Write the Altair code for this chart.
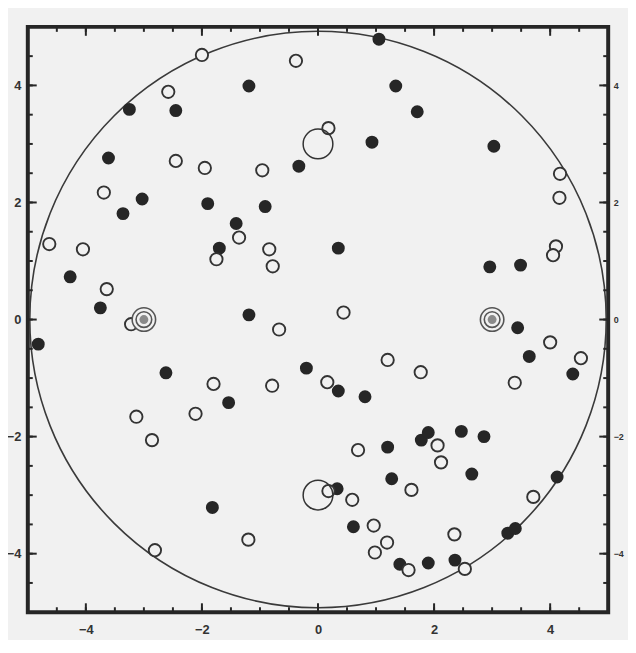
import altair as alt
import pandas as pd

# ---- data ----
filled_x = [1.05, -1.19, 1.34, -3.25, -2.45, 1.71, 0.93, 3.03, -3.61, -0.33,
            -3.03, -3.36, -1.90, -0.91, -1.41, -1.70, 0.35, 2.96, 3.49, -4.27,
            -3.75, -1.19, -4.82, 3.44, 3.64, 4.39, -2.62, -0.20, 0.35, 0.81,
            -1.54, 1.20, 1.78, 1.90, 2.47, 2.86, 2.65, 1.27, 4.12, 0.33,
            -1.82, 0.61, 3.27, 3.40, 1.41, 1.90, 2.36]
filled_y = [4.79, 3.99, 3.99, 3.59, 3.57, 3.55, 3.03, 2.96, 2.76, 2.62,
            2.06, 1.81, 1.98, 1.93, 1.64, 1.22, 1.22, 0.90, 0.93, 0.73,
            0.20, 0.08, -0.42, -0.14, -0.63, -0.93, -0.91, -0.83, -1.22, -1.32,
            -1.42, -2.18, -2.06, -1.93, -1.91, -2.00, -2.64, -2.72, -2.69, -2.89,
            -3.21, -3.54, -3.65, -3.57, -4.18, -4.16, -4.11]

open_x = [-2.00, -0.38, -2.58, 0.18, -2.45, -1.95, -0.96, 4.17, -3.69, 4.16,
          -1.36, -4.63, -4.05, -0.84, -1.75, 4.10, 4.05, -0.78, -3.64, 0.44,
          -3.22, -0.67, 4.00, 4.53, 3.39, 1.20, 1.77, -1.80, -0.79, 0.16,
          -3.13, -2.11, -2.86, 0.69, 2.06, 2.12, 1.61, 3.71, 0.18, 0.59,
          0.96, 1.19, 0.98, 2.35, -1.20, -2.81, 1.56, 2.53]
open_y = [4.52, 4.42, 3.89, 3.27, 2.71, 2.59, 2.55, 2.49, 2.17, 2.08,
          1.40, 1.29, 1.20, 1.20, 1.03, 1.25, 1.10, 0.91, 0.52, 0.12,
          -0.08, -0.17, -0.39, -0.66, -1.08, -0.69, -0.90, -1.10, -1.13, -1.07,
          -1.66, -1.61, -2.06, -2.23, -2.15, -2.44, -2.91, -3.03, -2.93, -3.08,
          -3.52, -3.81, -3.98, -3.67, -3.76, -3.94, -4.28, -4.26]

big_x = [0.0, 0.0]
big_y = [3.0, -3.0]
ring_x = [-3.0, 3.0]
ring_y = [0.0, 0.0]
centre_x = [0.0]
centre_y = [0.0]

label_values = [-4, -2, 0, 2, 4]
major_ticks = [-4, -2, 0, 2, 4]
minor_ticks = [-4.5, -4.0, -3.5, -3.0, -2.5, -2.0, -1.5, -1.0, -0.5, 0.0,
               0.5, 1.0, 1.5, 2.0, 2.5, 3.0, 3.5, 4.0, 4.5]

# ---- chart ----
W, H = 586, 591
BG = "#f1f1f1"
INK = "#262626"

XS = alt.Scale(domain=[-5, 5], nice=False, zero=False)
YS = alt.Scale(domain=[-5, 5], nice=False, zero=False)

df_filled = pd.DataFrame({"x": filled_x, "y": filled_y})
df_open = pd.DataFrame({"x": open_x, "y": open_y})
df_big = pd.DataFrame({"x": big_x, "y": big_y})
df_ring = pd.DataFrame({"x": ring_x, "y": ring_y})
df_centre = pd.DataFrame({"x": centre_x, "y": centre_y})
df_major = pd.DataFrame({"v": major_ticks})
df_minor = pd.DataFrame({"v": minor_ticks})

lab = dict(grid=False, domain=False, ticks=False, tickSize=0, title=None,
           labelFont="Liberation Sans", labelFontWeight="bold",
           labelColor="#333333")

def xq(axis=None):
    return alt.X("x:Q", scale=XS, axis=axis)

def yq(axis=None):
    return alt.Y("y:Q", scale=YS, axis=axis)

boundary = alt.Chart(df_centre).mark_point(
    shape="circle", filled=False, stroke="#3a3a3a", strokeWidth=1.6, opacity=1
).encode(x=xq(), y=yq(), size=alt.value(582 * 582))

filled = alt.Chart(df_filled).mark_point(
    shape="circle", filled=True, fill=INK, opacity=1, strokeWidth=0
).encode(
    x=xq(alt.Axis(values=label_values, orient="bottom", labelPadding=12,
                  labelFontSize=13, **lab)),
    y=yq(alt.Axis(values=label_values, orient="left", labelPadding=7,
                  labelFontSize=13, **lab)),
    size=alt.value(170),
)

opens = alt.Chart(df_open).mark_point(
    shape="circle", filled=False, fill=BG, fillOpacity=1, stroke="#333333",
    strokeWidth=1.9, opacity=1
).encode(x=xq(), y=yq(), size=alt.value(155))

bigs = alt.Chart(df_big).mark_point(
    shape="circle", filled=False, stroke="#333333", strokeWidth=1.5, opacity=1
).encode(x=xq(), y=yq(), size=alt.value(900))

ring_outer = alt.Chart(df_ring).mark_point(
    shape="circle", filled=False, fill=BG, fillOpacity=1, stroke="#555555",
    strokeWidth=1.6, opacity=1
).encode(x=xq(), y=yq(), size=alt.value(560))
ring_mid = alt.Chart(df_ring).mark_point(
    shape="circle", filled=False, stroke="#555555", strokeWidth=1.6, opacity=1
).encode(x=xq(), y=yq(), size=alt.value(250))
ring_inner = alt.Chart(df_ring).mark_point(
    shape="circle", filled=True, fill="#8a8a8a", opacity=1, strokeWidth=0
).encode(x=xq(), y=yq(), size=alt.value(80))

MAJ, MIN = 9, 5

def xticks(df, y0, y1):
    return alt.Chart(df).mark_rule(color=INK, strokeWidth=2).encode(
        x=alt.X("v:Q", scale=XS, axis=None), y=alt.value(y0), y2=alt.value(y1))

def yticks(df, x0, x1, axis=None):
    return alt.Chart(df).mark_rule(color=INK, strokeWidth=2).encode(
        y=alt.Y("v:Q", scale=YS, axis=axis), x=alt.value(x0), x2=alt.value(x1))

ticks = [
    xticks(df_minor, H, H - MIN), xticks(df_major, H, H - MAJ),
    xticks(df_minor, 0, MIN), xticks(df_major, 0, MAJ),
    yticks(df_minor, 0, MIN), yticks(df_major, 0, MAJ),
    yticks(df_minor, W, W - MIN),
    yticks(df_major, W, W - MAJ,
           alt.Axis(values=label_values, orient="right", labelPadding=5,
                    labelFontSize=9, **lab)),
]

chart = alt.layer(
    boundary, filled, opens, bigs, ring_outer, ring_mid, ring_inner, *ticks
).resolve_axis(x="independent", y="independent").properties(
    width=W, height=H,
    autosize=alt.AutoSizeParams(type="none"),
    padding={"left": 20, "top": 16, "right": 20, "bottom": 25},
    background=BG,
).configure_view(stroke=INK, strokeWidth=4)

chart.save("out.html", embed_options={"renderer": "svg", "actions": False})
